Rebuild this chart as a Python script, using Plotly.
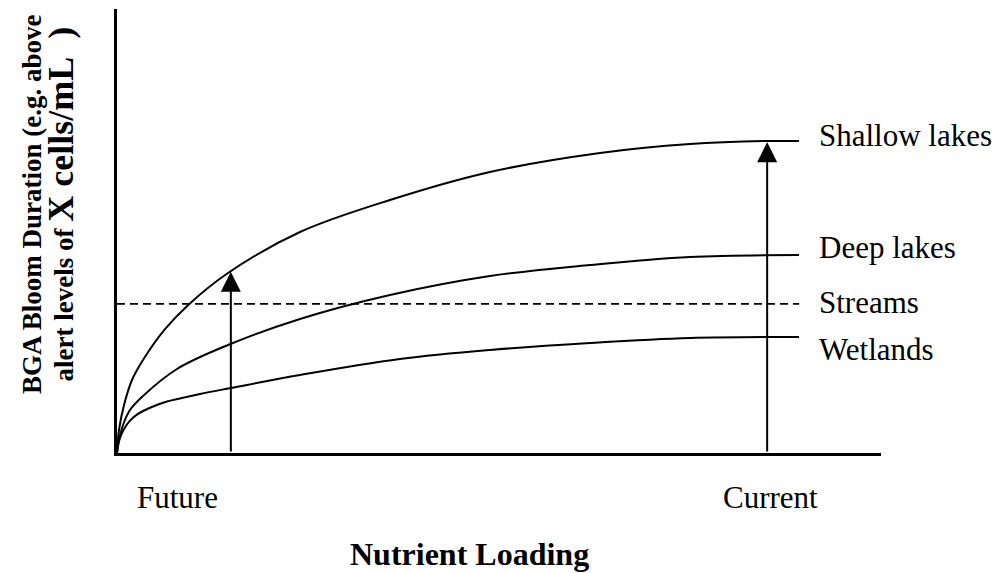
import plotly.graph_objects as go

# ---- data (x: nutrient loading 0-100, y: bloom duration 0-100) ----
shallow_x = [0, 0.26, 0.92, 1.96, 3.40, 6.28, 9.29, 14.53, 23.95, 35.73, 48.82, 63.22, 75.0, 85.08, 89.27]
shallow_y = [0, 5.18, 10.81, 16.44, 20.95, 27.90, 33.30, 40.54, 49.77, 56.98, 63.29, 67.57, 69.59, 70.27, 70.27]

deep_x = [0, 0.26, 0.79, 1.70, 3.40, 7.85, 14.53, 23.95, 35.73, 48.82, 61.91, 75.0, 89.27]
deep_y = [0, 2.93, 6.31, 9.68, 12.84, 18.92, 24.32, 30.18, 35.59, 39.86, 42.34, 44.14, 44.59]

wet_x = [0, 0.13, 0.39, 0.92, 1.70, 2.75, 4.32, 6.54, 10.86, 14.92, 23.95, 37.04, 48.82, 61.91, 75.0, 89.27]
wet_y = [0, 1.58, 3.38, 5.41, 7.30, 8.80, 10.20, 11.60, 13.29, 14.64, 17.57, 21.17, 23.20, 24.77, 25.90, 26.13]

streams_x = [0, 89.3]
streams_y = [33.6, 33.6]

series_names = ["Shallow lakes", "Deep lakes", "Streams", "Wetlands"]
label_y = [71.4, 46.2, 34.0, 23.4]
label_x = 91.6

arrow_x = [14.9, 85.1]
arrow_tip_y = [40.8, 70.0]

cat_labels = ["Future", "Current"]
cat_x = [7.9, 85.5]

x_title = "Nutrient Loading"
y_title_1 = "BGA Bloom Duration (e.g. above"
y_title_2a = "alert levels of "
y_title_2b = "X cells/mL&nbsp;&nbsp;)"

FONT = "Liberation Serif"
XR = [0, 100]
YR = [0, 100]

def px(v, r):  # data value -> paper fraction
    return (v - r[0]) / (r[1] - r[0])

fig = go.Figure()
for xs, ys in [(shallow_x, shallow_y), (deep_x, deep_y), (wet_x, wet_y)]:
    fig.add_trace(go.Scatter(x=xs, y=ys, mode="lines",
                             line=dict(color="black", width=2, shape="spline", smoothing=1.0),
                             hoverinfo="skip", showlegend=False))
fig.add_trace(go.Scatter(x=streams_x, y=streams_y, mode="lines",
                         line=dict(color="black", width=1.8, dash="8px,5px"),
                         hoverinfo="skip", showlegend=False))

ann = []
for name, yy in zip(series_names, label_y):
    ann.append(dict(x=label_x, y=yy, xref="x", yref="y", text=name, showarrow=False,
                    xanchor="left", yanchor="middle",
                    font=dict(family=FONT, size=31, color="black")))
for ax_, ty in zip(arrow_x, arrow_tip_y):
    ann.append(dict(x=ax_, y=ty, xref="x", yref="y", ax=ax_, ay=0, axref="x", ayref="y",
                    text="", showarrow=True, arrowhead=2, arrowsize=2, arrowwidth=2,
                    arrowcolor="black", standoff=0, startstandoff=0))
for lab, cx in zip(cat_labels, cat_x):
    ann.append(dict(x=px(cx, XR), y=px(-10.1, YR), xref="paper", yref="paper", text=lab,
                    showarrow=False, xanchor="center", yanchor="middle",
                    font=dict(family=FONT, size=31, color="black")))
ann.append(dict(x=px(46.2, XR), y=px(-22.7, YR), xref="paper", yref="paper",
                text="<b>" + x_title + "</b>",
                showarrow=False, xanchor="center", yanchor="middle",
                font=dict(family=FONT, size=32, color="black")))
ann.append(dict(x=px(-11.1, XR), y=px(56.1, YR), xref="paper", yref="paper",
                text="<b>" + y_title_1 + "</b>",
                showarrow=False, textangle=-90, xanchor="center", yanchor="middle",
                font=dict(family=FONT, size=27, color="black")))
ann.append(dict(x=px(-7.4, XR), y=px(56.1, YR), xref="paper", yref="paper",
                text="<b>" + y_title_2a + '<span style="font-size:36px">' + y_title_2b + "</span></b>",
                showarrow=False, textangle=-90, xanchor="center", yanchor="middle",
                font=dict(family=FONT, size=27, color="black")))

fig.update_layout(
    width=998, height=573,
    margin=dict(l=117, r=117, t=9, b=120),
    paper_bgcolor="white", plot_bgcolor="white",
    annotations=ann,
    xaxis=dict(range=XR, showline=True, linewidth=3, linecolor="black",
               showgrid=False, zeroline=False, showticklabels=False, ticks=""),
    yaxis=dict(range=YR, showline=True, linewidth=3, linecolor="black",
               showgrid=False, zeroline=False, showticklabels=False, ticks=""),
)

fig.write_html("out.html", config={"displayModeBar": False},
               post_script="document.body.style.margin='0px';")
